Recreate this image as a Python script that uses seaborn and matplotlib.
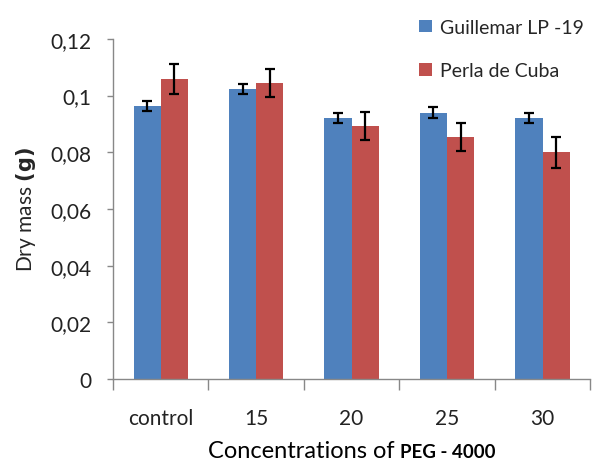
import matplotlib
matplotlib.use("Agg")
import matplotlib.pyplot as plt
import seaborn as sns
import pandas as pd
import numpy as np
from matplotlib.ticker import FuncFormatter, FixedLocator
from matplotlib.offsetbox import TextArea, HPacker, AnchoredOffsetbox

categories = ["control", "15", "20", "25", "30"]
guillemar = [0.0964, 0.1024, 0.0921, 0.0940, 0.0921]
guillemar_err = [0.0018, 0.0018, 0.0018, 0.0018, 0.0018]
perla = [0.1060, 0.1045, 0.0893, 0.0853, 0.0800]
perla_err = [0.0053, 0.0050, 0.0050, 0.0050, 0.0055]
series = ["Guillemar LP -19", "Perla de Cuba"]
colors = ["#4F81BD", "#C0504D"]

df = pd.DataFrame({
    "conc": categories * 2,
    "value": guillemar + perla,
    "err": guillemar_err + perla_err,
    "variety": [series[0]] * 5 + [series[1]] * 5,
})

sns.set_style("white")
plt.rcParams["font.family"] = ["Lato", "DejaVu Sans"]

fig = plt.figure(figsize=(5.98, 4.64), dpi=100)
ax = fig.add_axes([0.189, 0.181, 0.798, 0.733])

sns.barplot(data=df, x="conc", y="value", hue="variety", palette=colors,
            errorbar=None, width=0.57, saturation=1, linewidth=0, ax=ax)

# error bars at bar centres
for cont, name in zip(ax.containers, series):
    sub = df[df["variety"] == name]
    xs = [p.get_x() + p.get_width() / 2 for p in cont.patches]
    ax.errorbar(xs, sub["value"].values, yerr=sub["err"].values, fmt="none",
                ecolor="black", elinewidth=1.6, capsize=3.8, capthick=1.6)

ax.set_ylim(0, 0.12)
ax.set_xlim(-0.5, 4.5)
ax.set_yticks(np.arange(0, 0.121, 0.02))
ax.yaxis.set_major_formatter(FuncFormatter(
    lambda v, p: "0" if abs(v) < 1e-9 else f"{v:.2f}".rstrip("0").replace(".", ",")))

ax.xaxis.set_minor_locator(FixedLocator(np.arange(-0.5, 5, 1)))
ax.tick_params(which="both", bottom=True, left=True)
ax.tick_params(axis="x", which="major", length=0, pad=21, labelsize=15, labelcolor="#222222")
ax.tick_params(axis="x", which="minor", length=8, color="#888888", width=1)
ax.tick_params(axis="y", length=4.5, color="#888888", width=1, labelsize=15,
               labelcolor="#222222", pad=11)

for s in ["top", "right"]:
    ax.spines[s].set_visible(False)
for s in ["left", "bottom"]:
    ax.spines[s].set_color("#888888")
    ax.spines[s].set_linewidth(1)

ax.set_xlabel("")
xl = HPacker(children=[
    TextArea("Concentrations of ", textprops=dict(fontsize=17, color="black")),
    TextArea("PEG - 4000", textprops=dict(fontsize=13.5, fontweight="bold", color="black")),
], align="baseline", pad=0, sep=0)
ax.add_artist(AnchoredOffsetbox(loc="upper center", child=xl, frameon=False, pad=0,
                                bbox_to_anchor=(0.5, -0.18), bbox_transform=ax.transAxes,
                                borderpad=0))

ax.set_ylabel("Dry mass $\\bf{(g)}$", fontsize=15, labelpad=9)

handles, labels = ax.get_legend_handles_labels()
ax.get_legend().remove()
fig.legend(handles, labels, loc="upper left", bbox_to_anchor=(0.672, 0.995),
           frameon=False, fontsize=14, handlelength=0.65, handleheight=0.65,
           labelspacing=1.35, handletextpad=0.4)

fig.savefig("out.png", dpi=100)
plt.close(fig)
